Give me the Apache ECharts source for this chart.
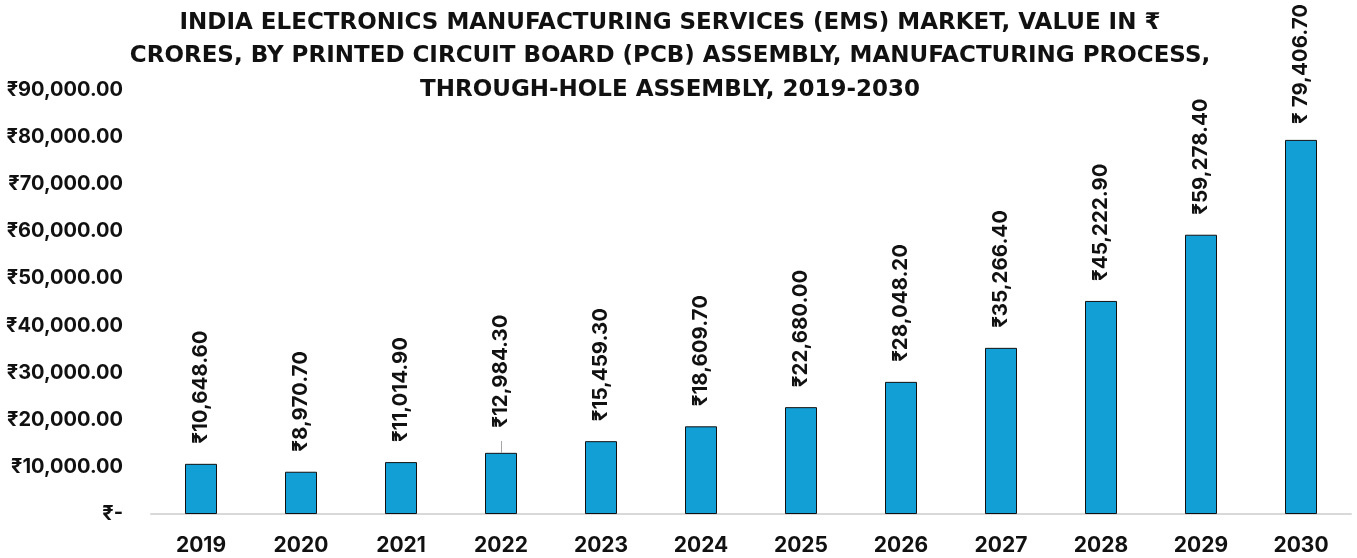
<!DOCTYPE html>
<html>
<head>
<meta charset="utf-8">
<script src="https://cdn.jsdelivr.net/npm/echarts@6/dist/echarts.min.js"></script>
<style>
  html, body { margin: 0; padding: 0; background: #fff; }
  #chart { width: 1357px; height: 558px; }
</style>
</head>
<body>
<div id="chart"></div>
<script>
// Through-hole assembly EMS market value, ₹ crores
const years = ['2019', '2020', '2021', '2022', '2023', '2024', '2025', '2026', '2027', '2028', '2029', '2030'];
const values = [10648.6, 8970.7, 11014.9, 12984.3, 15459.3, 18609.7, 22680.0, 28048.2, 35266.4, 45222.9, 59278.4, 79406.7];
const titleLines = [
  'INDIA ELECTRONICS MANUFACTURING SERVICES (EMS) MARKET, VALUE IN ₹',
  'CRORES, BY PRINTED CIRCUIT BOARD (PCB) ASSEMBLY, MANUFACTURING PROCESS,',
  'THROUGH-HOLE ASSEMBLY, 2019-2030'
];

const TITLE_FONT = '"DejaVu Sans", "Noto Sans", sans-serif';
const FONT = 'Inter, "Noto Sans", "DejaVu Sans", sans-serif';

// the 2022 label is lifted a little and tied to its bar by a short leader
const LIFTED = 3;
const LEADER_RISE = 2500;
const LAST = values.length - 1;

function num(v) {
  const parts = v.toFixed(2).split('.');
  parts[0] = parts[0].replace(/\B(?=(\d{3})+(?!\d))/g, ',');
  return parts.join('.');
}

const barData = values.map((v, i) => {
  if (i === LIFTED) return { value: v, label: { distance: 25 } };
  if (i === LAST) return { value: v, label: { distance: 16 } };
  return { value: v };
});

const chart = echarts.init(document.getElementById('chart'));
chart.setOption({
  backgroundColor: '#ffffff',
  title: {
    text: titleLines.join('\n'),
    left: 665,
    top: 1,
    textAlign: 'center',
    textStyle: { fontFamily: TITLE_FONT, fontWeight: 'bold', fontSize: 23, lineHeight: 33.5, color: '#111' }
  },
  grid: { left: 151, right: 6, top: 90, bottom: 44, containLabel: false },
  xAxis: {
    type: 'category',
    data: years,
    axisLine: { lineStyle: { color: '#d9d9d9', width: 2 } },
    axisTick: { show: false },
    axisLabel: { fontFamily: FONT, fontWeight: 'bold', fontSize: 21, color: '#111', margin: 21 }
  },
  yAxis: {
    type: 'value',
    min: 0, max: 90000, interval: 10000,
    axisLine: { show: false },
    axisTick: { show: false },
    splitLine: { show: false },
    axisLabel: {
      fontFamily: FONT, fontWeight: 'bold', fontSize: 20, color: '#111', margin: 28,
      formatter: v => v === 0 ? '₹-' : '₹' + num(v)
    }
  },
  series: [{
    type: 'bar',
    data: barData,
    barWidth: 32,
    itemStyle: { color: '#129fd6', borderColor: '#111', borderWidth: 1 },
    label: {
      show: true,
      position: 'top',
      rotate: 90,
      align: 'left',
      verticalAlign: 'middle',
      distance: 20,
      fontFamily: FONT, fontWeight: 'bold', fontSize: 20.5, color: '#111',
      formatter: p => (p.dataIndex === LAST ? '₹ ' : '₹') + num(p.value)
    },
    markLine: {
      silent: true,
      symbol: 'none',
      label: { show: false },
      lineStyle: { color: '#a6a6a6', width: 1, type: 'solid' },
      data: [[
        { coord: [years[LIFTED], values[LIFTED]] },
        { coord: [years[LIFTED], values[LIFTED] + LEADER_RISE] }
      ]]
    }
  }]
});
</script>
</body>
</html>
